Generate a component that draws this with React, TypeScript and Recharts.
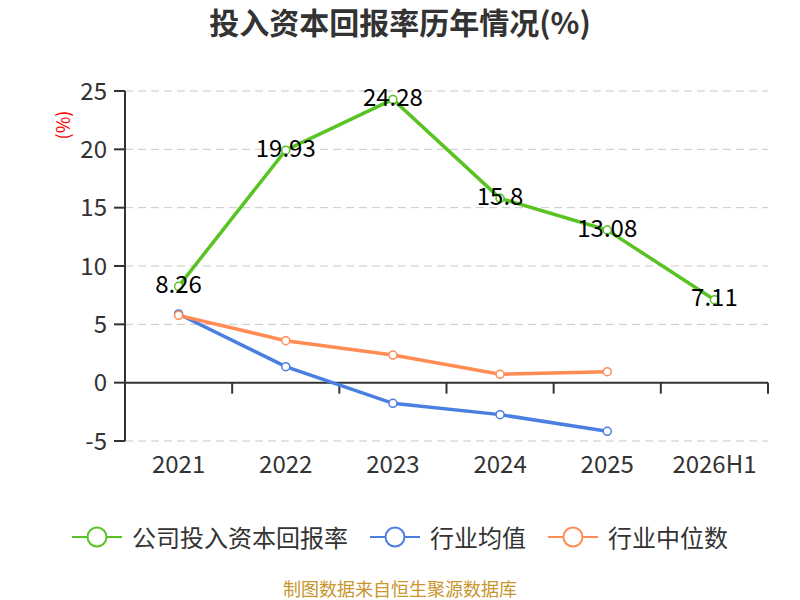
import { CartesianGrid, LabelList, Line, LineChart, ReferenceLine, XAxis, YAxis } from 'recharts';

const categories = ['2021', '2022', '2023', '2024', '2025', '2026H1'];
const companyRoic = [8.26, 19.93, 24.28, 15.8, 13.08, 7.11];
const industryMean = [5.89, 1.37, -1.77, -2.74, -4.17, null];
const industryMedian = [5.77, 3.6, 2.37, 0.72, 0.94, null];
const yTicks = [-5, 0, 5, 10, 15, 20, 25];

const data = categories.map((name, i) => ({
  name,
  company: companyRoic[i],
  mean: industryMean[i],
  median: industryMedian[i],
}));

const GREEN = '#58c322';
const BLUE = '#4a7fe1';
const ORANGE = '#ff8c55';
const FONT = '"Noto Sans CJK SC", "Noto Sans", sans-serif';

const legendItems = [
  { label: '公司投入资本回报率', color: GREEN },
  { label: '行业均值', color: BLUE },
  { label: '行业中位数', color: ORANGE },
];

// x axis drawn on the zero line, with ticks on the category boundaries
const ZeroAxis = props => {
  const { x1, y1, x2, y2 } = props;
  const n = categories.length;
  return (
    <g>
      <line x1={x1} y1={y1} x2={x2} y2={y2} stroke="#333" strokeWidth={2} />
      {Array.from({ length: n + 1 }, (_, i) => {
        const x = x1 + ((x2 - x1) * i) / n;
        return <line key={i} x1={x} x2={x} y1={y1} y2={y1 + 11} stroke="#333" strokeWidth={2} />;
      })}
    </g>
  );
};

const renderValue = props => {
  const { x, y, value } = props;
  return (
    <text x={x} y={y - 4} textAnchor="middle" dominantBaseline="central" fontSize={24} fill="#000" fontFamily={FONT}>
      {value}
    </text>
  );
};

const renderUnit = props => {
  const { viewBox } = props;
  return (
    <text
      x={viewBox.x - 3}
      y={viewBox.y + 34}
      transform={`rotate(-90 ${viewBox.x - 3} ${viewBox.y + 34})`}
      textAnchor="middle"
      dominantBaseline="central"
      fontSize={18}
      fill="#ff0000"
      fontFamily={FONT}
    >
      (%)
    </text>
  );
};

const dot = color => ({ r: 4, fill: '#fff', stroke: color, strokeWidth: 1.5 });

export default function App() {
  return (
    <div style={{ position: 'absolute', left: 0, top: 0, width: 800, height: 600, background: '#fff', fontFamily: FONT }}>
      <div
        style={{
          position: 'absolute',
          top: 2,
          width: 800,
          textAlign: 'center',
          fontSize: 30,
          fontWeight: 'bold',
          color: '#333',
          lineHeight: '38px',
        }}
      >
        投入资本回报率历年情况(%)
      </div>
      <LineChart width={800} height={600} data={data} margin={{ top: 91, right: 32, bottom: 119, left: 65 }}>
        <CartesianGrid vertical={false} stroke="#c8c8c8" strokeDasharray="8 5" />
        <XAxis
          dataKey="name"
          scale="band"
          axisLine={false}
          tickLine={false}
          tickSize={0}
          tickMargin={15}
          height={40}
          tick={{ fontSize: 24, fill: '#333', fontFamily: FONT }}
        />
        <YAxis
          domain={[-5, 25]}
          ticks={yTicks}
          width={60}
          tickSize={11}
          tickMargin={7}
          axisLine={{ stroke: '#333', strokeWidth: 2 }}
          tickLine={{ stroke: '#333', strokeWidth: 2 }}
          tick={{ fontSize: 24, fill: '#333', fontFamily: FONT }}
          label={{ content: renderUnit }}
        />
        <ReferenceLine y={0} shape={ZeroAxis} />
        <Line dataKey="company" stroke={GREEN} strokeWidth={3.5} dot={dot(GREEN)} isAnimationActive={false}>
          <LabelList dataKey="company" content={renderValue} />
        </Line>
        <Line dataKey="mean" stroke={BLUE} strokeWidth={3.5} dot={dot(BLUE)} isAnimationActive={false} />
        <Line dataKey="median" stroke={ORANGE} strokeWidth={3.5} dot={dot(ORANGE)} isAnimationActive={false} />
      </LineChart>
      <div
        style={{
          position: 'absolute',
          top: 521,
          width: 800,
          display: 'flex',
          justifyContent: 'center',
          gap: 22,
          fontSize: 24,
          color: '#333',
          lineHeight: '32px',
        }}
      >
        {legendItems.map(item => (
          <div key={item.label} style={{ display: 'flex', alignItems: 'center', gap: 10 }}>
            <svg width={50} height={24}>
              <line x1={0} y1={12} x2={50} y2={12} stroke={item.color} strokeWidth={2} />
              <circle cx={25} cy={12} r={9.5} fill="#fff" stroke={item.color} strokeWidth={2} />
            </svg>
            <span>{item.label}</span>
          </div>
        ))}
      </div>
      <div
        style={{
          position: 'absolute',
          top: 578,
          width: 800,
          textAlign: 'center',
          fontSize: 18,
          color: '#c9952c',
          lineHeight: '20px',
        }}
      >
        制图数据来自恒生聚源数据库
      </div>
    </div>
  );
}
